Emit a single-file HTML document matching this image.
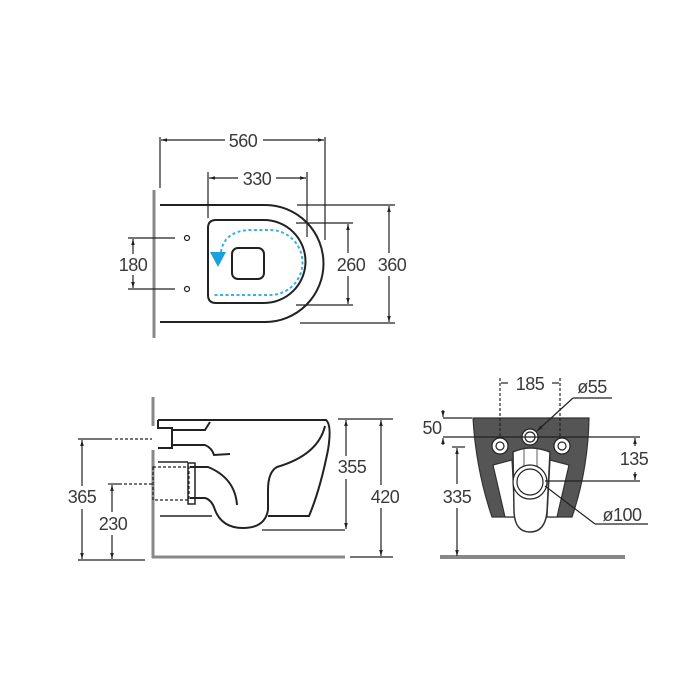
<!DOCTYPE html>
<html><head><style>
html,body{margin:0;padding:0;background:#fff}
svg{display:block}
text{font-family:"Liberation Sans",sans-serif;font-size:18px;fill:#3a3a3a;letter-spacing:-0.5px}
</style></head><body>
<svg width="700" height="700" viewBox="0 0 700 700" xmlns="http://www.w3.org/2000/svg">
<defs>
<marker id="a" viewBox="0 0 10 10" refX="10" refY="5" markerWidth="5" markerHeight="5" orient="auto-start-reverse"><path d="M0,2 L10,5 L0,8z" fill="#222"/></marker>
</defs>
<g stroke="#222" fill="none" stroke-width="1.2">
<!-- TOP VIEW -->
<line x1="154" y1="190" x2="154" y2="338" stroke="#888" stroke-width="3"/>
<path d="M160,205 H265 A58.5,58.5 0 0 1 265,322 H160" stroke-width="2"/>
<path d="M216,220 H264 A41.5,41.5 0 0 1 264,303 H216 Q208,303 208,295 V228 Q208,220 216,220Z" stroke-width="2"/>
<rect x="232" y="248" width="32" height="31" rx="6" stroke-width="2"/>
<path d="M221,252 Q224,232 248,230 H270 A32,32 0 0 1 270,295 H212" stroke="#3ab0e0" stroke-width="2" stroke-dasharray="3,2.5"/>
<path d="M210,252 L226,252 L218,267Z" fill="#1aa0dc" stroke="none"/>
<circle cx="187" cy="238" r="2.5"/><circle cx="187" cy="289" r="2.5"/>
<!-- 560 -->
<line x1="160" y1="137" x2="160" y2="188"/><line x1="325" y1="137" x2="325" y2="240"/>
<line x1="161" y1="140" x2="225" y2="140" marker-start="url(#a)"/><line x1="263" y1="140" x2="324" y2="140" marker-end="url(#a)"/>
<!-- 330 -->
<line x1="208" y1="172" x2="208" y2="218"/><line x1="307" y1="172" x2="307" y2="237"/>
<line x1="209" y1="178" x2="238" y2="178" marker-start="url(#a)"/><line x1="276" y1="178" x2="306" y2="178" marker-end="url(#a)"/>
<!-- 180 -->
<line x1="128" y1="238" x2="175" y2="238"/><line x1="128" y1="289" x2="175" y2="289"/>
<line x1="133" y1="239" x2="133" y2="254" marker-start="url(#a)"/><line x1="133" y1="275" x2="133" y2="288" marker-end="url(#a)"/>
<!-- 260 -->
<line x1="296" y1="223" x2="353" y2="223"/><line x1="296" y1="305" x2="353" y2="305"/>
<line x1="348" y1="224" x2="348" y2="253" marker-start="url(#a)"/><line x1="348" y1="276" x2="348" y2="304" marker-end="url(#a)"/>
<!-- 360 -->
<line x1="297" y1="205" x2="395" y2="205"/><line x1="300" y1="323" x2="395" y2="323"/>
<line x1="389" y1="206" x2="389" y2="253" marker-start="url(#a)"/><line x1="389" y1="276" x2="389" y2="322" marker-end="url(#a)"/>

<!-- SIDE VIEW -->
<line x1="153" y1="397" x2="153" y2="426" stroke="#888" stroke-width="3"/>
<line x1="153" y1="450" x2="153" y2="558" stroke="#888" stroke-width="3"/>
<line x1="152" y1="557" x2="345" y2="557" stroke="#888" stroke-width="3"/>
<path d="M158,420 H326 Q332,425 328,450 Q320,490 309,516 H268" stroke-width="2"/>
<path d="M325,426 Q318,455 277,467 Q268,472 268,490 V510" stroke-width="2"/>
<path d="M268,510 Q265,528 243,528 Q222,528 215,510 Q212,500 205,498 H190" stroke-width="2"/>
<path d="M190,467 H208 Q235,478 237,505" stroke-width="2"/>
<path d="M158,420 V428 H172 V448 H158 M172,430 H205 L210,422 M172,445 H205 Q212,448 214,455 L230,454" stroke-width="2"/>
<path d="M158,462 H188 M160,516 H212" stroke-width="1.5"/>
<rect x="153" y="467" width="36" height="33" stroke-dasharray="3,2"/>
<rect x="188" y="463" width="7" height="41" stroke-width="1.5"/>
<line x1="262" y1="530" x2="345" y2="530"/>
<!-- 355 / 420 -->
<line x1="338" y1="419" x2="393" y2="419"/><line x1="350" y1="557" x2="393" y2="557"/>
<line x1="346" y1="420" x2="346" y2="456" marker-start="url(#a)"/><line x1="346" y1="479" x2="346" y2="529" marker-end="url(#a)"/>
<line x1="381" y1="420" x2="381" y2="485" marker-start="url(#a)"/><line x1="381" y1="508" x2="381" y2="556" marker-end="url(#a)"/>
<!-- 365 / 230 -->
<line x1="78" y1="439" x2="112" y2="439"/><line x1="115" y1="439" x2="152" y2="439" stroke-dasharray="3,2"/>
<line x1="108" y1="484" x2="122" y2="484"/><line x1="124" y1="484" x2="152" y2="484" stroke-dasharray="3,2"/>
<line x1="78" y1="560" x2="145" y2="560"/>
<line x1="82" y1="440" x2="82" y2="486" marker-start="url(#a)"/><line x1="82" y1="509" x2="82" y2="559" marker-end="url(#a)"/>
<line x1="112" y1="485" x2="112" y2="512" marker-start="url(#a)"/><line x1="112" y1="535" x2="112" y2="559" marker-end="url(#a)"/>

<!-- FRONT VIEW -->
<line x1="440" y1="557" x2="625" y2="557" stroke="#888" stroke-width="4"/>
<path d="M473,418 H589 Q588,470 572,517 H492 Q476,470 473,418Z" fill="#555" stroke="#333"/>
<path d="M493,465 L512,460 L515,517 H505Z" fill="#fff" stroke="#333"/>
<path d="M569,465 L550,460 L547,517 H557Z" fill="#fff" stroke="#333"/>
<path d="M513,452 Q530,444 550,452 L547,512 Q545,532 530,532 Q515,532 514,512Z" fill="#fff" stroke="#333" stroke-width="1.5"/>
<line x1="524" y1="449" x2="524" y2="466" stroke="#777"/><line x1="537" y1="449" x2="537" y2="466" stroke="#777"/>
<circle cx="530" cy="482" r="17" fill="#fff"/><circle cx="530" cy="482" r="13" fill="#fff"/>
<circle cx="530" cy="437" r="8" fill="#fff"/><circle cx="530" cy="437" r="5" fill="#fff"/>
<circle cx="500" cy="446" r="8" fill="#fff"/><circle cx="500" cy="446" r="4" fill="#fff"/>
<circle cx="562" cy="446" r="8" fill="#fff"/><circle cx="562" cy="446" r="4" fill="#fff"/>
<!-- 185 -->
<line x1="500" y1="378" x2="500" y2="438" stroke-dasharray="3,2"/><line x1="560" y1="378" x2="560" y2="438" stroke-dasharray="3,2"/>
<line x1="501" y1="383" x2="508" y2="383"/><line x1="552" y1="383" x2="559" y2="383"/>
<!-- ø55 -->
<line x1="573" y1="398" x2="612" y2="398"/><line x1="573" y1="398" x2="537" y2="431" marker-end="url(#a)"/>
<!-- 50 / 135 -->
<line x1="443" y1="418" x2="472" y2="418"/><line x1="443" y1="437" x2="640" y2="437"/>
<line x1="443" y1="410" x2="443" y2="417" marker-end="url(#a)"/><line x1="443" y1="445" x2="443" y2="438" marker-end="url(#a)"/>
<line x1="545" y1="481" x2="640" y2="481"/>
<line x1="635" y1="438" x2="635" y2="446" marker-start="url(#a)"/><line x1="635" y1="472" x2="635" y2="480" marker-end="url(#a)"/>
<!-- 335 -->
<line x1="452" y1="447" x2="465" y2="447"/><line x1="457" y1="448" x2="457" y2="484" marker-start="url(#a)"/><line x1="457" y1="508" x2="457" y2="556" marker-end="url(#a)"/>
<!-- ø100 -->
<line x1="595" y1="524" x2="648" y2="524"/><line x1="595" y1="524" x2="545" y2="486"/>
</g>
<g>
<text x="243" y="147" text-anchor="middle">560</text>
<text x="257" y="185" text-anchor="middle">330</text>
<text x="133" y="271" text-anchor="middle">180</text>
<text x="351" y="271" text-anchor="middle">260</text>
<text x="392" y="271" text-anchor="middle">360</text>
<text x="352" y="473" text-anchor="middle">355</text>
<text x="385" y="503" text-anchor="middle">420</text>
<text x="82" y="503" text-anchor="middle">365</text>
<text x="113" y="530" text-anchor="middle">230</text>
<text x="530" y="390" text-anchor="middle">185</text>
<text x="592" y="393" text-anchor="middle">ø55</text>
<text x="432" y="434" text-anchor="middle">50</text>
<text x="634" y="465" text-anchor="middle">135</text>
<text x="457" y="503" text-anchor="middle">335</text>
<text x="622" y="521" text-anchor="middle">ø100</text>
</g>
</svg>
</body></html>
